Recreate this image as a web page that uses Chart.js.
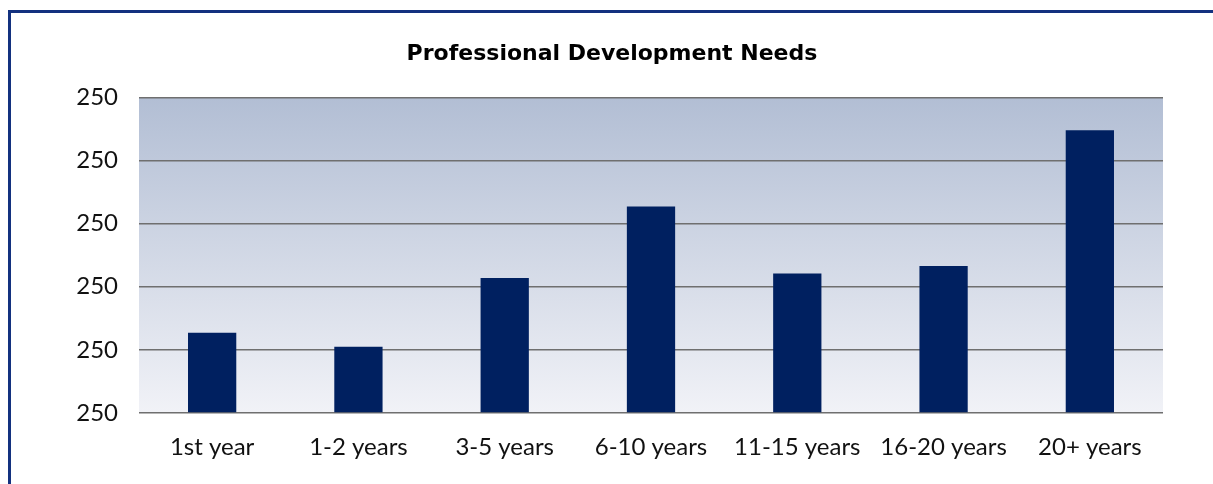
<!DOCTYPE html>
<html>
<head>
<meta charset="utf-8">
<script src="https://cdn.jsdelivr.net/npm/chart.js"></script>
<style>
  html, body { margin: 0; padding: 0; background: #fff; }
  #wrap { position: relative; width: 1213px; height: 484px; overflow: hidden; }
  #frame {
    position: absolute; left: 8px; top: 10px; right: -10px; bottom: -10px;
    border-top: 3px solid #13317f; border-left: 3px solid #13317f;
  }
  canvas { position: absolute; left: 0; top: 0; }
</style>
</head>
<body>
<div id="wrap">
  <div id="frame"></div>
  <canvas id="graficoNecessidades" width="1213" height="484"></canvas>
</div>
<script>
var categorias = ["1st year", "1-2 years", "3-5 years", "6-10 years", "11-15 years", "16-20 years", "20+ years"];
var valores = [1.27, 1.05, 2.14, 3.27, 2.21, 2.33, 4.48];
var rotuloEixo = "250";

// fundo em degradê atrás das barras
var fundoGradiente = {
    id: 'fundoGradiente',
    beforeDraw: function (chart) {
        var a = chart.chartArea;
        var c = chart.ctx;
        var g = c.createLinearGradient(0, a.top, 0, a.bottom);
        g.addColorStop(0, '#b2bed4');
        g.addColorStop(1, '#f1f2f7');
        c.save();
        c.fillStyle = g;
        c.fillRect(a.left, a.top, a.right - a.left, a.bottom - a.top);
        c.restore();
    }
};

var ctx = document.getElementById("graficoNecessidades");

var myChart = new Chart(ctx, {
    type: 'bar',
    data: {
        labels: categorias,
        datasets: [{
            data: valores,
            backgroundColor: '#002060',
            barPercentage: 0.33,
            categoryPercentage: 1
        }]
    },
    plugins: [fundoGradiente],
    options: {
        responsive: false,
        animation: false,
        layout: { padding: { left: 61, right: 50, top: 0, bottom: 0 } },
        plugins: {
            legend: { display: false },
            tooltip: { enabled: false },
            title: {
                display: true,
                text: 'Professional Development Needs',
                color: '#000',
                font: { family: 'DejaVu Sans', size: 22, weight: 'bold' },
                padding: { top: 41, bottom: 30 }
            }
        },
        scales: {
            x: {
                grid: { display: false },
                border: { display: false },
                ticks: {
                    color: '#111',
                    font: { family: 'Lato', size: 24 },
                    padding: 12,
                    maxRotation: 0
                },
                afterFit: function (scale) { scale.height = 71; }
            },
            y: {
                min: 0,
                max: 5,
                border: { display: false },
                grid: { color: '#6f6f6f', lineWidth: 1.5, drawTicks: false },
                ticks: {
                    stepSize: 1,
                    color: '#111',
                    font: { family: 'Lato', size: 24 },
                    padding: 21,
                    callback: function () { return rotuloEixo; }
                },
                afterFit: function (scale) { scale.width = 78; }
            }
        }
    }
});
</script>
</body>
</html>
